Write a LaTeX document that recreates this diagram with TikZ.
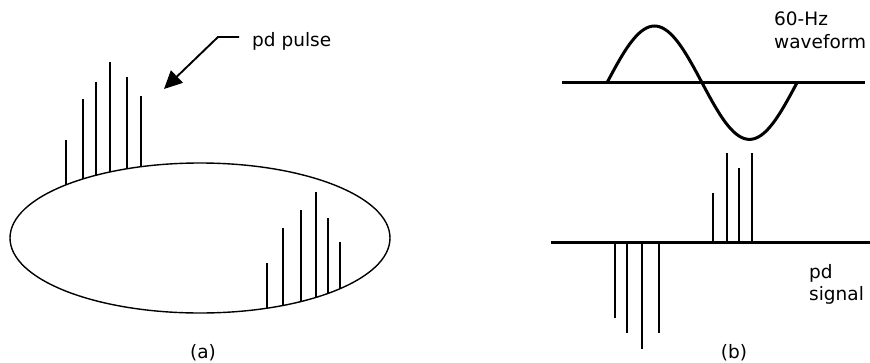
\documentclass[tikz,border=0pt]{standalone}
\usepackage{fontspec}
\setmainfont{DejaVu Sans}
\usetikzlibrary{arrows.meta}

\begin{document}
\begin{tikzpicture}[x=1pt,y=-1pt,
  pulse/.style={line width=1.8pt},
  axis/.style={line width=3pt},
  lbl/.style={inner sep=0pt,anchor=base west,align=left,
    font=\fontsize{18.5}{22.5}\selectfont},
  sublbl/.style={inner sep=0pt,font=\fontsize{18.5}{22}\selectfont}]
  \useasboundingbox (0,0) rectangle (870,362);

  % (a) cavity with pulses on its rim
  \draw[line width=1.4pt] (200,238) ellipse [x radius=190,y radius=75];
  \foreach \x/\t in {66/140,82.7/99,95.7/81.7,110/62.3,126.7/77.3,140.7/95.7}
    \draw[pulse] (\x,\t) -- (\x,{238-75*sqrt(1-((\x-200)/190)^2)});
  \foreach \x/\t in {266.7/263.3,283.3/227.7,301/210,315.7/192.3,328/218,340/242}
    \draw[pulse] (\x,\t) -- (\x,{238+75*sqrt(1-((\x-200)/190)^2)});

  \node[lbl] (pdlabel) at (252,46) {pd pulse};
  \coordinate (lead) at (239,37);
  \coordinate (bend) at (218,37);
  \coordinate (tip) at (164,89);
  \draw[line width=1.9pt,-{Triangle[length=18pt,width=17pt]}] (lead) -- (bend) -- (tip);
  \node[sublbl] (capa) at (203,353) {(a)};

  % (b) supply voltage and pd signal
  \draw[axis] (562,82.7) -- (865,82.7);
  \draw[axis] plot[domain=0:360,samples=73,smooth] ({607+0.52778*\x},{82.7-56.7*sin(\x)});
  \node[lbl] (hzlabel) at (774,48.3) {60-Hz\\waveform};

  \draw[axis] (551,242.7) -- (870,242.7);
  \foreach \x/\t in {713.3/192.7,726.7/153.3,739/167.7,752.3/153.3}
    \draw[pulse] (\x,242.7) -- (\x,\t);
  \foreach \x/\b in {614.7/318.3,626.7/333.3,642.3/349.3,659/333.3}
    \draw[pulse] (\x,242.7) -- (\x,\b);
  \node[lbl] (siglabel) at (809,300.7) {pd\\signal};
  \node[sublbl] (capb) at (734,353) {(b)};
\end{tikzpicture}
\end{document}
